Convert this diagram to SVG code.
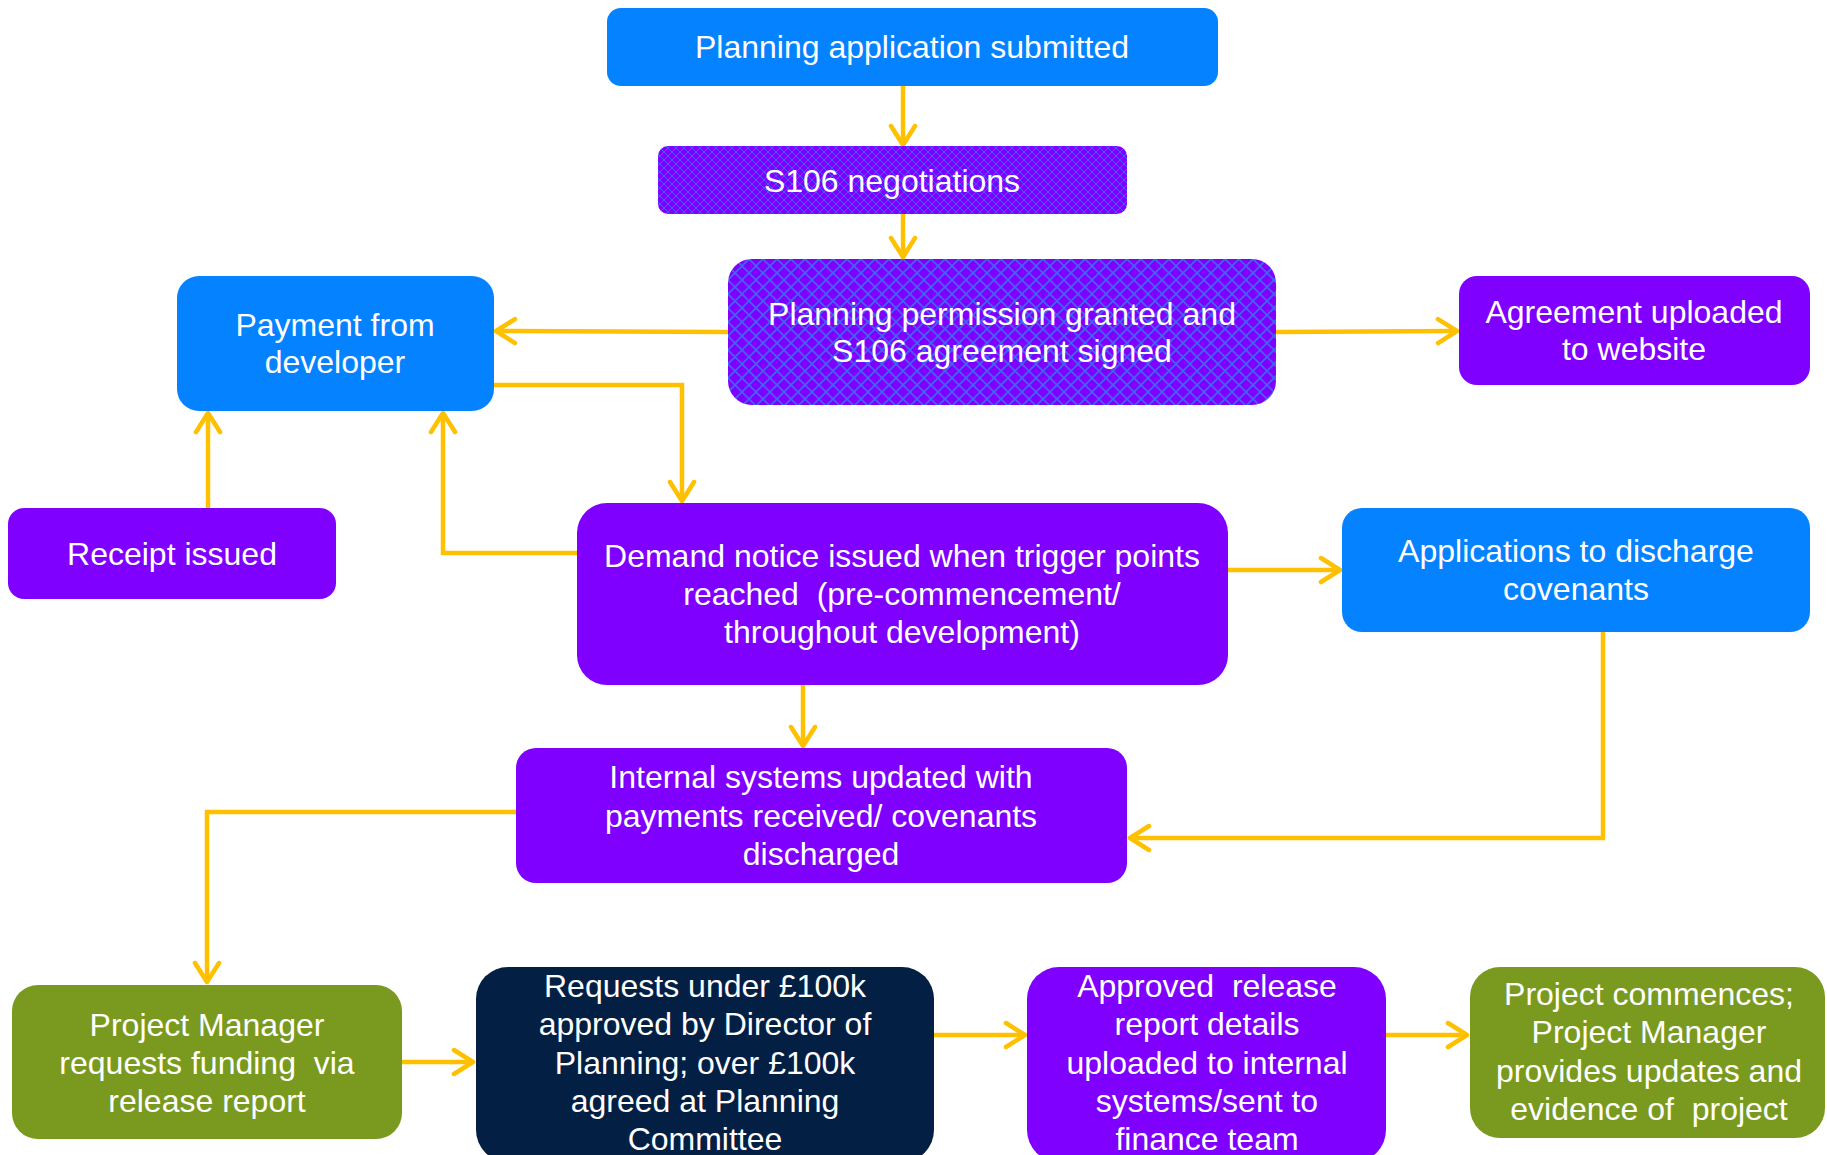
<svg xmlns="http://www.w3.org/2000/svg" width="1827" height="1155" viewBox="0 0 1827 1155">
<style>
text{font-family:"Liberation Sans",Arial,sans-serif;font-size:32px;fill:#fff;text-anchor:middle;white-space:pre}
.blue{fill:#0582FF}
.purple{fill:#8000FF}
.green{fill:#7A9A1F}
.navy{fill:#041F44}
.c{fill:none;stroke:#FFC000;stroke-width:4.5;stroke-linejoin:miter;marker-end:url(#ah)}
</style>
<defs>
<marker id="ah" viewBox="0 0 30 30" refX="26" refY="15" markerWidth="30" markerHeight="30" markerUnits="userSpaceOnUse" orient="auto">
<path d="M7,3 L26,15 L7,27" fill="none" stroke="#FFC000" stroke-width="4.5" stroke-linecap="round" stroke-linejoin="round"/>
</marker>
<pattern id="hatchS" patternUnits="userSpaceOnUse" width="8" height="8">
<rect width="8" height="8" fill="#8000FF"/>
<path d="M0,0 L8,8 M8,0 L0,8" stroke="#4A5CFF" stroke-width="1"/>
</pattern>
<pattern id="hatchL" patternUnits="userSpaceOnUse" width="14" height="14">
<rect width="14" height="14" fill="#8000FF"/>
<path d="M0,0 L14,14 M14,0 L0,14" stroke="#3F66F8" stroke-width="1.6"/>
</pattern>
</defs>

<g id="connectors">
<path class="c" d="M903,86 L903,145"/>
<path class="c" d="M903,214 L903,257"/>
<path class="c" d="M728,332 L496,331"/>
<path class="c" d="M1276,332 L1457,331"/>
<path class="c" d="M208,508 L208,413"/>
<path class="c" d="M577,553 L443,553 L443,413"/>
<path class="c" d="M494,385 L682,385 L682,501"/>
<path class="c" d="M1228,570 L1340,570"/>
<path class="c" d="M803,685 L803,746"/>
<path class="c" d="M1603,632 L1603,838 L1130,838"/>
<path class="c" d="M516,812 L207,812 L207,982"/>
<path class="c" d="M402,1062 L473,1062"/>
<path class="c" d="M934,1035 L1025,1035"/>
<path class="c" d="M1386,1035 L1467,1035"/>
</g>

<g id="n1">
<rect class="blue" x="607" y="8" width="611" height="78" rx="14"/>
<text x="912" y="58">Planning application submitted</text>
</g>
<g id="n2">
<rect x="658" y="146" width="469" height="68" rx="10" fill="url(#hatchS)"/>
<text x="892" y="192">S106 negotiations</text>
</g>
<g id="n3">
<rect x="728" y="259" width="548" height="146" rx="24" fill="url(#hatchL)"/>
<text x="1002" y="325">Planning permission granted and</text>
<text x="1002" y="362">S106 agreement signed</text>
</g>
<g id="n4">
<rect class="blue" x="177" y="276" width="317" height="135" rx="22"/>
<text x="335" y="336">Payment from</text>
<text x="335" y="373">developer</text>
</g>
<g id="n5">
<rect class="purple" x="1459" y="276" width="351" height="109" rx="18"/>
<text x="1634" y="323">Agreement uploaded</text>
<text x="1634" y="360">to website</text>
</g>
<g id="n6">
<rect class="purple" x="8" y="508" width="328" height="91" rx="16"/>
<text x="172" y="565">Receipt issued</text>
</g>
<g id="n7">
<rect class="purple" x="577" y="503" width="651" height="182" rx="30"/>
<text x="902" y="567">Demand notice issued when trigger points</text>
<text x="902" y="605">reached  (pre-commencement/</text>
<text x="902" y="643">throughout development)</text>
</g>
<g id="n8">
<rect class="blue" x="1342" y="508" width="468" height="124" rx="20"/>
<text x="1576" y="562">Applications to discharge</text>
<text x="1576" y="600">covenants</text>
</g>
<g id="n9">
<rect class="purple" x="516" y="748" width="611" height="135" rx="20"/>
<text x="821" y="788">Internal systems updated with</text>
<text x="821" y="827">payments received/ covenants</text>
<text x="821" y="865">discharged</text>
</g>
<g id="n10">
<rect class="green" x="12" y="985" width="390" height="154" rx="26"/>
<text x="207" y="1036">Project Manager</text>
<text x="207" y="1074">requests funding  via</text>
<text x="207" y="1112">release report</text>
</g>
<g id="n11">
<rect class="navy" x="476" y="967" width="458" height="195" rx="32"/>
<text x="705" y="997">Requests under £100k</text>
<text x="705" y="1035">approved by Director of</text>
<text x="705" y="1074">Planning; over £100k</text>
<text x="705" y="1112">agreed at Planning</text>
<text x="705" y="1150">Committee</text>
</g>
<g id="n12">
<rect class="purple" x="1027" y="967" width="359" height="195" rx="32"/>
<text x="1207" y="997">Approved  release</text>
<text x="1207" y="1035">report details</text>
<text x="1207" y="1074">uploaded to internal</text>
<text x="1207" y="1112">systems/sent to</text>
<text x="1207" y="1150">finance team</text>
</g>
<g id="n13">
<rect class="green" x="1470" y="967" width="355" height="171" rx="30"/>
<text x="1649" y="1005">Project commences;</text>
<text x="1649" y="1043">Project Manager</text>
<text x="1649" y="1082">provides updates and</text>
<text x="1649" y="1120">evidence of  project</text>
</g>
</svg>
